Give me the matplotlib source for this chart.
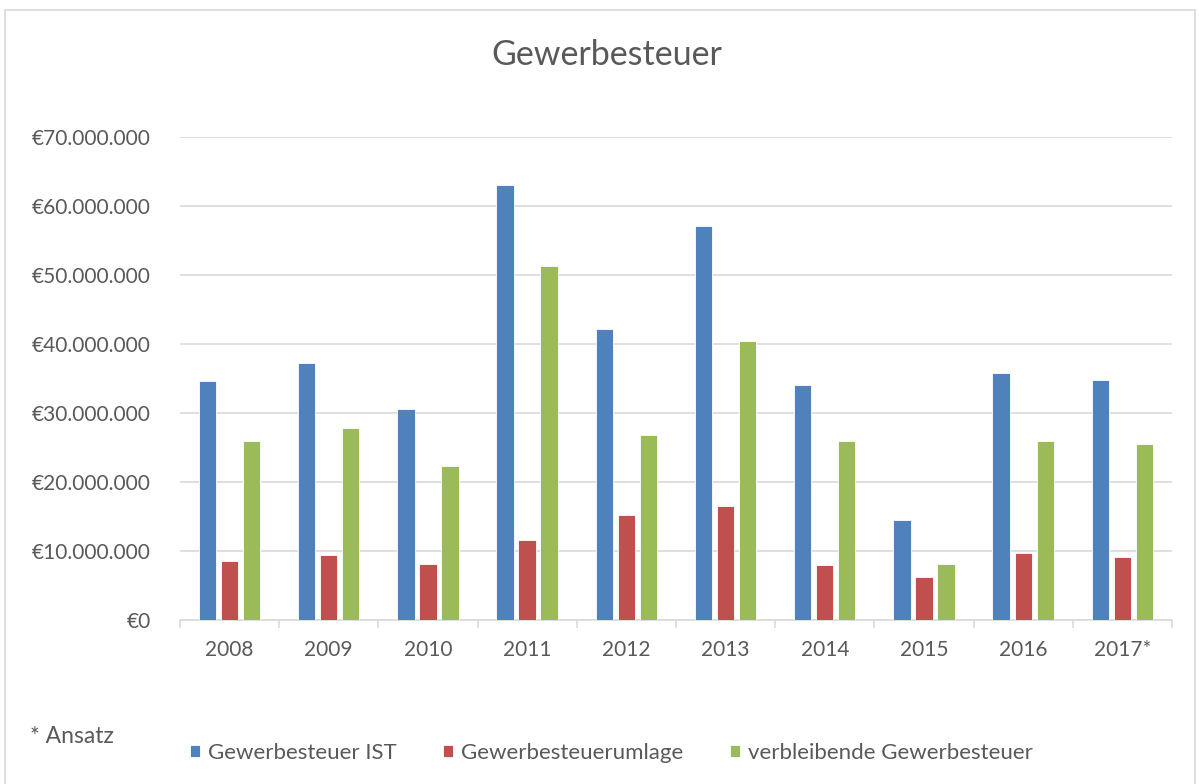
import matplotlib.pyplot as plt
import numpy as np
from matplotlib.patches import Rectangle
from matplotlib.ticker import FuncFormatter

plt.rcParams['font.family'] = ['Lato', 'DejaVu Sans']

years = ["2008", "2009", "2010", "2011", "2012", "2013", "2014", "2015", "2016", "2017*"]
ist = [34.7, 37.3, 30.6, 63.0, 42.2, 57.1, 34.1, 14.5, 35.8, 34.8]
umlage = [8.6, 9.4, 8.2, 11.6, 15.2, 16.6, 8.0, 6.3, 9.8, 9.1]
verbleibend = [26.0, 27.8, 22.4, 51.3, 26.9, 40.4, 26.0, 8.1, 26.0, 25.6]
series_names = ["Gewerbesteuer IST", "Gewerbesteuerumlage", "verbleibende Gewerbesteuer"]
colors = ["#4F81BD", "#C0504D", "#9BBB59"]

text_color = "#595959"
grid_color = "#D9D9D9"

fig = plt.figure(figsize=(11.99, 7.84), dpi=100)
ax = fig.add_axes([0.150, 0.209, 0.8275, 0.616])

x = np.arange(len(years))
width = 0.175
step = 0.222
for i, (vals, name, c) in enumerate(zip([ist, umlage, verbleibend], series_names, colors)):
    ax.bar(x + (i - 1) * step, np.array(vals) * 1e6, width, color=c, label=name,
           edgecolor="white", linewidth=0.6, zorder=3)

ax.set_xlim(-0.5, len(years) - 0.5)
ax.set_ylim(0, 70e6)
ax.set_yticks(np.arange(0, 70e6 + 1, 10e6))
ax.yaxis.set_major_formatter(FuncFormatter(lambda v, p: "€" + f"{int(v):,}".replace(",", ".")))
ax.grid(axis="y", color=grid_color, linewidth=1.2, zorder=0)
ax.set_axisbelow(True)

ax.set_xticks(x)
ax.set_xticklabels(years)
ax.set_xticks(np.arange(-0.5, len(years)), minor=True)
ax.tick_params(axis="x", which="major", length=0, pad=14, labelsize=15, colors=text_color)
ax.tick_params(axis="x", which="minor", length=6, color=grid_color, width=1.2)
ax.tick_params(axis="y", length=0, pad=21, labelsize=15, colors=text_color)

for s in ["top", "right", "left"]:
    ax.spines[s].set_visible(False)
ax.spines["bottom"].set_color(grid_color)
ax.spines["bottom"].set_linewidth(1.2)

fig.text(0.506, 0.93, "Gewerbesteuer", ha="center", va="center", fontsize=24.5, color=text_color)
fig.text(0.025, 0.061, "* Ansatz", ha="left", va="center", fontsize=16.5, color=text_color)

fig.legend(loc="center", bbox_to_anchor=(0.510, 0.040), ncol=3, frameon=False,
           fontsize=16, labelcolor=text_color, handlelength=0.45, handleheight=0.45,
           handletextpad=0.35, columnspacing=2.1)

fig.patches.append(Rectangle((0.004, -0.01), 0.993, 0.997, transform=fig.transFigure,
                             fill=False, edgecolor=grid_color, linewidth=1.2))

fig.savefig("out.png", dpi=100)
